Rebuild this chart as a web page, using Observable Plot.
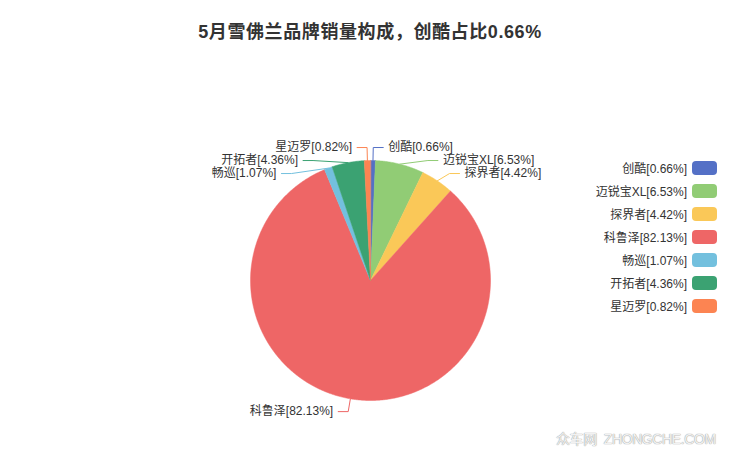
<!DOCTYPE html>
<html>
<head>
<meta charset="utf-8">
<script src="https://cdn.jsdelivr.net/npm/d3@7"></script>
<script src="https://cdn.jsdelivr.net/npm/@observablehq/plot@0.6"></script>
<style>
  html, body { margin: 0; padding: 0; background: #fff; }
  #wrap { position: relative; width: 740px; height: 455px; overflow: hidden;
          font-family: "Liberation Sans", "Noto Sans CJK SC", sans-serif; }
  #title { position: absolute; left: 0; width: 740px; top: 21px; text-align: center;
           font-size: 18px; font-weight: bold; color: #333; letter-spacing: 0.6px; line-height: 22px; }
  #legend { position: absolute; right: 23px; top: 156px; }
  .item { display: flex; align-items: center; justify-content: flex-end; height: 23px;
          font-size: 12px; color: #333; }
  .sw { width: 25px; height: 14px; border-radius: 4px; margin-left: 5px; }
  #wm { position: absolute; left: 556px; top: 428px; font-size: 14px; color: #f2f2f2;
        text-shadow: 0 0 1px #999, 0 0 1px #aaa; letter-spacing: -0.4px; white-space: nowrap; }
  #chart { position: absolute; left: 0; top: 0; }
</style>
</head>
<body>
<div id="wrap">
  <div id="chart"></div>
  <div id="title"></div>
  <div id="legend"></div>
  <div id="wm">众车网&nbsp; ZHONGCHE.COM</div>
</div>
<script>
const titleText = "5月雪佛兰品牌销量构成，创酷占比0.66%";
const names = ["创酷", "迈锐宝XL", "探界者", "科鲁泽", "畅巡", "开拓者", "星迈罗"];
const shares = [0.66, 6.53, 4.42, 82.13, 1.07, 4.36, 0.82];
const colors = ["#5470c6", "#91cc75", "#fac858", "#ee6666", "#73c0de", "#3ba272", "#fc8452"];

const labels = names.map((n, i) => `${n}[${shares[i].toFixed(2)}%]`);
document.getElementById("title").textContent = titleText;

// legend
const legend = document.getElementById("legend");
labels.forEach((t, i) => {
  const it = document.createElement("div");
  it.className = "item";
  const s = document.createElement("span"); s.textContent = t;
  const sw = document.createElement("div"); sw.className = "sw"; sw.style.background = colors[i];
  it.appendChild(s); it.appendChild(sw); legend.appendChild(it);
});

// geometry (pixel units relative to pie center, y up)
const R = 120, R2 = 133, LEN2 = 10, GAP = 5, SPACING = 13;
const total = d3.sum(shares);
let acc = 0;
const slices = shares.map((v, i) => {
  const a0 = acc / total * 2 * Math.PI;
  acc += v;
  const a1 = acc / total * 2 * Math.PI;
  const pts = [{x: 0, y: 0}];
  const n = Math.max(2, Math.ceil((a1 - a0) / (Math.PI / 360)));
  for (let k = 0; k <= n; k++) {
    const a = a0 + (a1 - a0) * k / n;
    pts.push({x: R * Math.sin(a), y: R * Math.cos(a)});
  }
  return {i, a0, a1, mid: (a0 + a1) / 2, pts};
});

// label layout
const lab = slices.map(s => ({
  i: s.i, mid: s.mid,
  side: Math.sin(s.mid) >= 0 ? 1 : -1,
  y: R2 * Math.cos(s.mid)
}));
[1, -1].forEach(side => {
  const arr = lab.filter(d => d.side === side).sort((a, b) => b.y - a.y);
  for (let k = 1; k < arr.length; k++) {
    if (arr[k - 1].y - arr[k].y < SPACING) arr[k].y = arr[k - 1].y - SPACING;
  }
});
lab.forEach(d => {
  d.x2 = d.side * Math.sqrt(Math.max(0, R2 * R2 - d.y * d.y));
  d.x3 = d.x2 + d.side * LEN2;
  d.tx = d.x3 + d.side * GAP;
  d.line = [
    {x: R * Math.sin(d.mid), y: R * Math.cos(d.mid)},
    {x: d.x2, y: d.y},
    {x: d.x3, y: d.y}
  ];
  d.text = labels[d.i];
});

const marks = [];
slices.forEach(s => {
  marks.push(Plot.line(s.pts, {x: "x", y: "y", curve: "linear-closed",
    fill: colors[s.i], stroke: colors[s.i], strokeWidth: 0.5}));
});
lab.forEach(d => {
  marks.push(Plot.line(d.line, {x: "x", y: "y", stroke: colors[d.i], strokeWidth: 1}));
});
marks.push(Plot.text(lab.filter(d => d.side === 1), {x: "tx", y: "y", text: "text",
  textAnchor: "start", fill: "#333", fontSize: 12}));
marks.push(Plot.text(lab.filter(d => d.side === -1), {x: "tx", y: "y", text: "text",
  textAnchor: "end", fill: "#333", fontSize: 12}));

const chart = Plot.plot({
  width: 740, height: 455,
  margin: 0,
  x: {domain: [-370, 370], axis: null},
  y: {domain: [-175, 280], axis: null},
  style: {fontFamily: '"Liberation Sans", "Noto Sans CJK SC", sans-serif', background: "transparent"},
  marks
});
document.getElementById("chart").appendChild(chart);
</script>
</body>
</html>
